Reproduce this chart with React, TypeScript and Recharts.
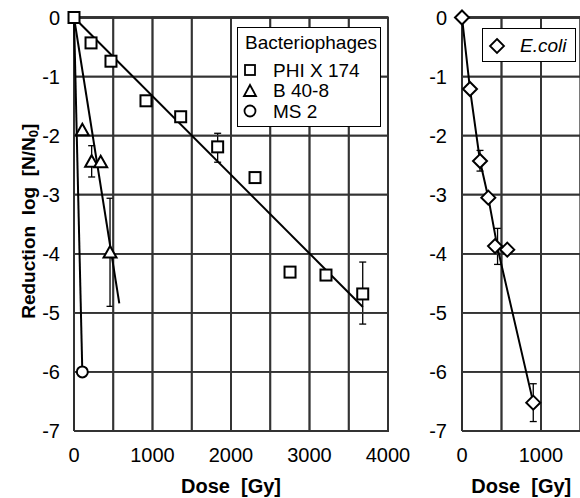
import React from 'react';
import { ScatterChart, Scatter, XAxis, YAxis, ErrorBar, Label, CartesianGrid, ReferenceLine } from 'recharts';

const FONT = '"Liberation Sans", Arial, Helvetica, sans-serif';

// ---- Data: bacteriophages (left panel) ----
const phiX174 = [
  { x: 0, y: 0 },
  { x: 217, y: -0.43 },
  { x: 471, y: -0.74 },
  { x: 917, y: -1.41 },
  { x: 1359, y: -1.68 },
  { x: 1830, y: -2.19 },
  { x: 2306, y: -2.71 },
  { x: 2752, y: -4.31 },
  { x: 3210, y: -4.36 },
  { x: 3678, y: -4.68 },
];
const phiX174Err = [
  { x: 217, y: -0.43, err: [0.05, 0.05] },
  { x: 471, y: -0.74, err: [0.04, 0.04] },
  { x: 917, y: -1.41, err: [0.05, 0.05] },
  { x: 1830, y: -2.19, err: [0.26, 0.23] },
  { x: 3678, y: -4.68, err: [0.51, 0.54] },
];
const phiX174Fit = [
  { x: 0, y: 0 },
  { x: 3680, y: -4.9 },
];

const b408 = [
  { x: 106, y: -1.91 },
  { x: 225, y: -2.44 },
  { x: 340, y: -2.45 },
  { x: 459, y: -3.98 },
];
const b408Err = [
  { x: 225, y: -2.44, err: [0.26, 0.27] },
  { x: 459, y: -3.98, err: [0.91, 0.92] },
];
const b408Fit = [
  { x: 0, y: 0 },
  { x: 577, y: -4.84 },
];

const ms2 = [{ x: 106, y: -6.0 }];
const ms2Fit = [
  { x: 0, y: 0 },
  { x: 106, y: -6.0 },
];

// ---- Data: E. coli (right panel) ----
const ecoli = [
  { x: 0, y: 0 },
  { x: 101, y: -1.21 },
  { x: 228, y: -2.43 },
  { x: 333, y: -3.05 },
  { x: 418, y: -3.87 },
  { x: 573, y: -3.93 },
  { x: 902, y: -6.52 },
];
const ecoliErr = [
  { x: 228, y: -2.43, err: [0.17, 0.18] },
  { x: 450, y: -3.87, err: [0.31, 0.3] },
  { x: 902, y: -6.52, err: [0.32, 0.32] },
];
const ecoliFit = [
  { x: 0, y: 0 },
  { x: 101, y: -1.21 },
  { x: 228, y: -2.43 },
  { x: 333, y: -3.05 },
  { x: 450, y: -3.9 },
  { x: 902, y: -6.52 },
];

// ---- Ticks / labels ----
const doseTicksLeft = [0, 500, 1000, 1500, 2000, 2500, 3000, 3500, 4000];
const doseTicksRight = [0, 500, 1000, 1500];
const reductionTicks = [0, -1, -2, -3, -4, -5, -6, -7];
const legendTitle = 'Bacteriophages';
const phageNames = ['PHI X 174', 'B 40-8', 'MS 2'];
const ecoliName = 'E.coli';
const xLabel = 'Dose\u00a0 [Gy]';

// ---- Grid paths built from the tick arrays (drawn through the chart scales) ----
const Y_MIN = Math.min(...reductionTicks);
const Y_MAX = Math.max(...reductionTicks);
function verticalGrid(xTicks: number[]) {
  const pts: { x: number; y: number }[] = [];
  xTicks.forEach((t, i) => {
    if (i % 2 === 0) pts.push({ x: t, y: Y_MIN }, { x: t, y: Y_MAX });
    else pts.push({ x: t, y: Y_MAX }, { x: t, y: Y_MIN });
  });
  return pts;
}
function horizontalGrid(xTicks: number[]) {
  const xMin = Math.min(...xTicks);
  const xMax = Math.max(...xTicks);
  const pts: { x: number; y: number }[] = [];
  reductionTicks.forEach((t, i) => {
    if (i % 2 === 0) pts.push({ x: xMin, y: t }, { x: xMax, y: t });
    else pts.push({ x: xMax, y: t }, { x: xMin, y: t });
  });
  return pts;
}
const gridLeftV = verticalGrid(doseTicksLeft);
const gridLeftH = horizontalGrid(doseTicksLeft);
const gridRightV = verticalGrid(doseTicksRight);
const gridRightH = horizontalGrid(doseTicksRight);

// ---- Marker shapes ----
const Square = (p: any) => (
  <rect x={p.cx - 5.5} y={p.cy - 5.5} width={11} height={11} fill="#fff" stroke="#000" strokeWidth={2} />
);
const Triangle = (p: any) => (
  <path d={`M${p.cx},${p.cy - 6.5} L${p.cx + 6.5},${p.cy + 5} L${p.cx - 6.5},${p.cy + 5} Z`} fill="#fff" stroke="#000" strokeWidth={2} />
);
const Circle = (p: any) => <circle cx={p.cx} cy={p.cy} r={5.5} fill="#fff" stroke="#000" strokeWidth={2} />;
const Diamond = (p: any) => (
  <path d={`M${p.cx},${p.cy - 7} L${p.cx + 7},${p.cy} L${p.cx},${p.cy + 7} L${p.cx - 7},${p.cy} Z`} fill="#fff" stroke="#000" strokeWidth={2} />
);
const Empty = () => <g />;

const GRID = '#333';
const GRID_W = 1.8;
const tickStyle = { fontSize: 20, fill: '#000', fontFamily: FONT };
const fmtThousands = (v: number) => (v % 1000 === 0 ? String(v) : '');
const gridLine = { stroke: GRID, strokeWidth: GRID_W, fill: 'none' };
const fitLine = { stroke: '#000', strokeWidth: 2, fill: 'none' };
const axisLineStyle = { stroke: '#000', strokeWidth: 2 };

const YLabel = (props: any) => {
  const vb = props.viewBox || {};
  const cx = 28;
  const cy = vb.y + vb.height / 2 - 3;
  return (
    <text
      x={cx}
      y={cy}
      transform={`rotate(-90 ${cx} ${cy})`}
      textAnchor="middle"
      dominantBaseline="central"
      fontFamily={FONT}
      fontWeight="bold"
      fontSize={19}
      fill="#000"
      style={{ whiteSpace: 'pre' }}
    >
      {'Reduction  log  [N/N'}
      <tspan fontSize={13} dy={5}>0</tspan>
      <tspan dy={-5}>]</tspan>
    </text>
  );
};

const LegendIcon = ({ kind }: { kind: string }) => {
  const c = 9;
  return (
    <svg width={18} height={18} style={{ display: 'block' }}>
      {kind === 'square' && <rect x={c - 5} y={c - 5} width={10} height={10} fill="#fff" stroke="#000" strokeWidth={1.8} />}
      {kind === 'triangle' && <path d={`M${c},${c - 6} L${c + 6},${c + 5} L${c - 6},${c + 5} Z`} fill="#fff" stroke="#000" strokeWidth={1.8} />}
      {kind === 'circle' && <circle cx={c} cy={c} r={5.5} fill="#fff" stroke="#000" strokeWidth={1.8} />}
      {kind === 'diamond' && <path d={`M${c},${c - 7} L${c + 7},${c} L${c},${c + 7} L${c - 7},${c} Z`} fill="#fff" stroke="#000" strokeWidth={1.8} />}
    </svg>
  );
};

const phageKinds = ['square', 'triangle', 'circle'];

export default function App() {
  return (
    <div style={{ position: 'absolute', left: 0, top: 0, width: 580, height: 498, overflow: 'hidden', fontFamily: FONT }}>
      <div style={{ position: 'absolute', left: 0, top: 0 }}>
        <ScatterChart width={420} height={498} margin={{ top: 17.5, right: 32, bottom: 0, left: 0 }}>
          <CartesianGrid stroke={GRID} strokeWidth={GRID_W} />
          <XAxis
            type="number"
            dataKey="x"
            domain={[0, 4000]}
            ticks={doseTicksLeft}
            tickFormatter={fmtThousands}
            interval={0}
            height={67}
            tickLine={false}
            axisLine={axisLineStyle}
            tickSize={6}
            tickMargin={11}
            tick={tickStyle}
          >
            <Label value={xLabel} position="insideBottom" offset={5} fontSize={20} fontWeight="bold" fill="#000" fontFamily={FONT} />
          </XAxis>
          <YAxis
            type="number"
            dataKey="y"
            domain={[-7, 0]}
            ticks={reductionTicks}
            interval={0}
            width={74}
            tickLine={false}
            axisLine={axisLineStyle}
            tickSize={6}
            tickMargin={8}
            tick={tickStyle}
          >
            <Label content={<YLabel />} />
          </YAxis>
          <ReferenceLine x={4000} stroke="#000" strokeWidth={2} ifOverflow="visible" />
          <ReferenceLine y={0} stroke="#000" strokeWidth={2} ifOverflow="visible" />
          <Scatter data={gridLeftV} line={gridLine} shape={Empty} isAnimationActive={false} />
          <Scatter data={gridLeftH} line={gridLine} shape={Empty} isAnimationActive={false} />
          <Scatter data={phiX174Fit} line={fitLine} shape={Empty} isAnimationActive={false} />
          <Scatter data={b408Fit} line={fitLine} shape={Empty} isAnimationActive={false} />
          <Scatter data={ms2Fit} line={fitLine} shape={Empty} isAnimationActive={false} />
          <Scatter data={ms2} shape={Circle} isAnimationActive={false} />
          <Scatter data={b408} shape={Triangle} isAnimationActive={false} />
          <Scatter data={phiX174} shape={Square} isAnimationActive={false} />
          <Scatter data={phiX174Err} shape={Empty} isAnimationActive={false}>
            <ErrorBar dataKey="err" direction="y" width={3.5} stroke="#000" strokeWidth={1.3} />
          </Scatter>
          <Scatter data={b408Err} shape={Empty} isAnimationActive={false}>
            <ErrorBar dataKey="err" direction="y" width={3.5} stroke="#000" strokeWidth={1.3} />
          </Scatter>
        </ScatterChart>
      </div>

      <div style={{ position: 'absolute', left: 400, top: 0 }}>
        <ScatterChart width={190} height={498} margin={{ top: 17.5, right: 9.5, bottom: 0, left: 0 }}>
          <CartesianGrid stroke={GRID} strokeWidth={GRID_W} />
          <XAxis
            type="number"
            dataKey="x"
            domain={[0, 1500]}
            ticks={doseTicksRight}
            tickFormatter={fmtThousands}
            interval={0}
            height={67}
            tickLine={false}
            axisLine={axisLineStyle}
            tickSize={6}
            tickMargin={11}
            tick={tickStyle}
          >
            <Label value={xLabel} position="insideBottom" offset={5} fontSize={20} fontWeight="bold" fill="#000" fontFamily={FONT} />
          </XAxis>
          <YAxis
            type="number"
            dataKey="y"
            domain={[-7, 0]}
            ticks={reductionTicks}
            interval={0}
            width={62}
            tickLine={false}
            axisLine={axisLineStyle}
            tickSize={6}
            tickMargin={9}
            tick={tickStyle}
          />
          <ReferenceLine y={0} stroke="#000" strokeWidth={2} ifOverflow="visible" />
          <Scatter data={gridRightV} line={gridLine} shape={Empty} isAnimationActive={false} />
          <Scatter data={gridRightH} line={gridLine} shape={Empty} isAnimationActive={false} />
          <Scatter data={ecoliFit} line={fitLine} shape={Empty} isAnimationActive={false} />
          <Scatter data={ecoli} shape={Diamond} isAnimationActive={false} />
          <Scatter data={ecoliErr} shape={Empty} isAnimationActive={false}>
            <ErrorBar dataKey="err" direction="y" width={3.5} stroke="#000" strokeWidth={1.3} />
          </Scatter>
        </ScatterChart>
      </div>

      {/* Left legend */}
      <div
        style={{
          position: 'absolute', left: 237, top: 27, width: 142, height: 98,
          border: '1.5px solid #000', background: '#fff', fontSize: 19, color: '#000', lineHeight: 1,
        }}
      >
        <div style={{ position: 'absolute', left: 7, top: 5 }}>{legendTitle}</div>
        {phageNames.map((n, i) => (
          <div key={n} style={{ position: 'absolute', left: 3, top: 32.5 + i * 20.5, display: 'flex', alignItems: 'center' }}>
            <LegendIcon kind={phageKinds[i]} />
            <span style={{ marginLeft: 14 }}>{n}</span>
          </div>
        ))}
      </div>

      {/* Right legend */}
      <div
        style={{
          position: 'absolute', left: 482, top: 28, width: 92, height: 32,
          border: '1.5px solid #000', background: '#fff', fontSize: 19, color: '#000', lineHeight: 1,
        }}
      >
        <div style={{ position: 'absolute', left: 5, top: 7, display: 'flex', alignItems: 'center' }}>
          <LegendIcon kind="diamond" />
          <span style={{ marginLeft: 14, fontStyle: 'italic' }}>{ecoliName}</span>
        </div>
      </div>
    </div>
  );
}
